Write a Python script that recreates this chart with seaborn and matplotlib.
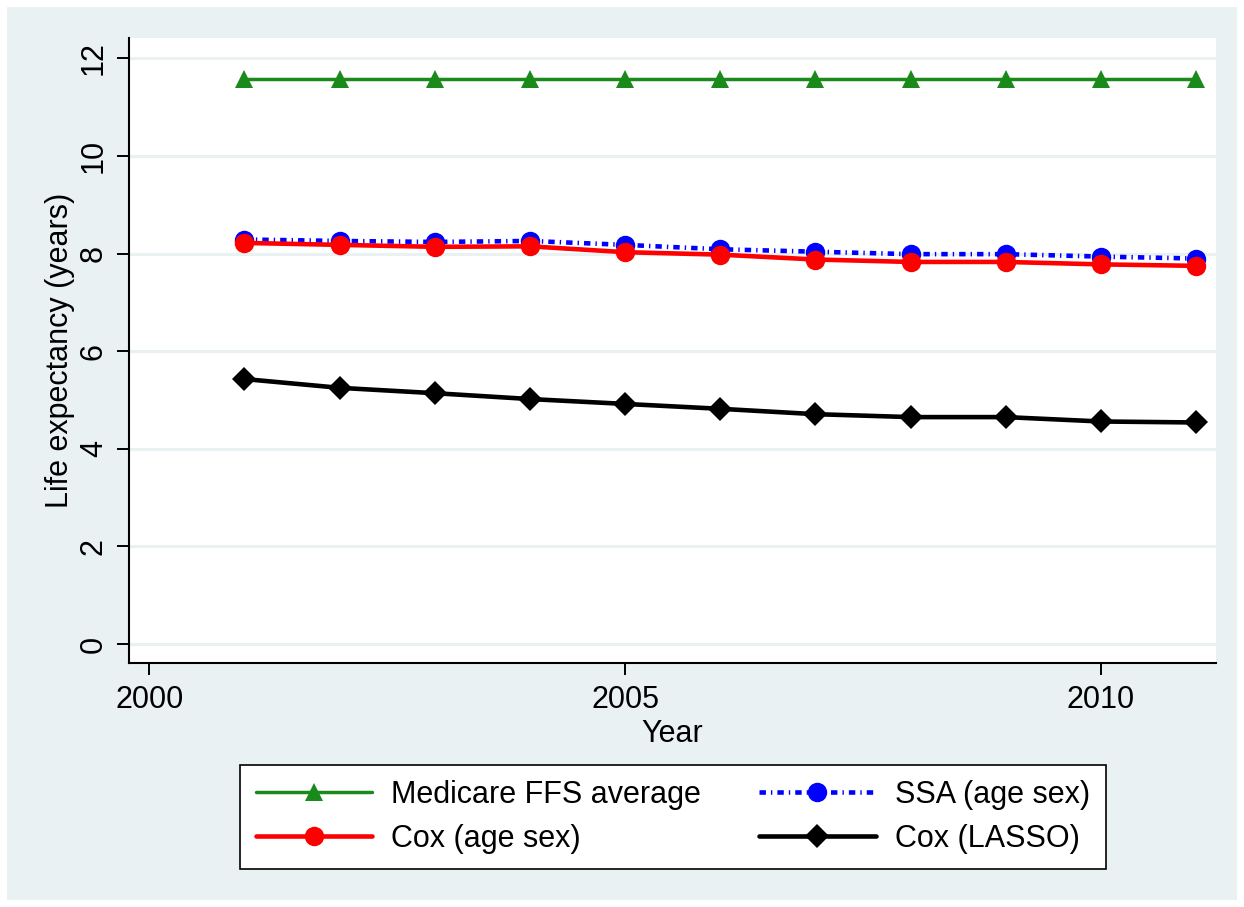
import numpy as np
import pandas as pd
import matplotlib
matplotlib.use("Agg")
import matplotlib.pyplot as plt
from matplotlib.patches import Rectangle
import seaborn as sns

# Life expectancy by year for each estimation approach
years = [2001, 2002, 2003, 2004, 2005, 2006, 2007, 2008, 2009, 2010, 2011]
medicare_ffs = [11.58, 11.58, 11.58, 11.58, 11.58, 11.58, 11.58, 11.58, 11.58, 11.58, 11.58]
ssa_age_sex = [8.29, 8.26, 8.24, 8.26, 8.18, 8.09, 8.04, 7.99, 7.99, 7.94, 7.90]
cox_age_sex = [8.22, 8.18, 8.14, 8.15, 8.03, 7.98, 7.88, 7.83, 7.83, 7.78, 7.75]
cox_lasso = [5.43, 5.25, 5.14, 5.02, 4.92, 4.82, 4.71, 4.65, 4.65, 4.56, 4.54]

series_labels = ["Medicare FFS average", "SSA (age sex)", "Cox (age sex)", "Cox (LASSO)"]
x_ticks = [2000, 2005, 2010]
y_ticks = [0, 2, 4, 6, 8, 10, 12]

sns.set_style("white")
plt.rcParams["font.family"] = ["Liberation Sans", "DejaVu Sans"]
plt.rcParams["text.color"] = "black"
plt.rcParams["axes.labelcolor"] = "black"
plt.rcParams["xtick.color"] = "black"
plt.rcParams["ytick.color"] = "black"

BG = "#EAF1F3"
FS = 22

fig = plt.figure(figsize=(12.44, 9.07), dpi=100, facecolor="white")
# outer graph region with a thin white margin
region = Rectangle((7 / 1244, 7 / 907), 1230 / 1244, 893 / 907,
                   transform=fig.transFigure, facecolor=BG, edgecolor="none")
region.set_zorder(-10)
fig.add_artist(region)

ax = fig.add_axes([129 / 1244, 1 - 663 / 907, (1216 - 129) / 1244, (663 - 38) / 907])
ax.set_zorder(1)
ax.set_facecolor("white")

df = pd.DataFrame({"year": years, "medicare": medicare_ffs, "ssa": ssa_age_sex,
                   "cox": cox_age_sex, "lasso": cox_lasso})

sns.lineplot(data=df, x="year", y="medicare", ax=ax, color="#1A8A1A", linewidth=2.5,
             marker="^", markersize=13, markeredgewidth=0, label=series_labels[0], zorder=3)
sns.lineplot(data=df, x="year", y="ssa", ax=ax, color="#0000FF", linewidth=3.3,
             linestyle=(0, (1.4, 1.1, 0.3, 1.1)),
             marker="o", markersize=14, markeredgewidth=0, label=series_labels[1], zorder=3)
sns.lineplot(data=df, x="year", y="cox", ax=ax, color="#FF0000", linewidth=3.3,
             marker="o", markersize=14, markeredgewidth=0, label=series_labels[2], zorder=4)
sns.lineplot(data=df, x="year", y="lasso", ax=ax, color="black", linewidth=3.3,
             marker="D", markersize=12.5, markeredgewidth=0, label=series_labels[3], zorder=4)

ax.set_xlim(1999.787, 2011.21)
ax.set_ylim(-0.39, 12.42)
ax.set_xticks(x_ticks)
ax.set_yticks(y_ticks)
ax.set_xticklabels([str(t) for t in x_ticks], fontsize=FS)
ax.set_yticklabels([str(t) for t in y_ticks], fontsize=FS, rotation=90, va="center")

ax.yaxis.grid(True, color=BG, linewidth=2.2, zorder=0)
ax.xaxis.grid(False)
ax.set_axisbelow(True)

for side in ["top", "right"]:
    ax.spines[side].set_visible(False)
for side in ["left", "bottom"]:
    ax.spines[side].set_color("black")
    ax.spines[side].set_linewidth(1.5)

ax.tick_params(axis="both", direction="out", length=8.5, width=1.4, color="black",
               left=True, bottom=True)
ax.tick_params(axis="y", pad=6)
ax.tick_params(axis="x", pad=7)

ax.set_xlabel("Year", fontsize=FS, labelpad=3)
ax.set_ylabel("Life expectancy (years)", fontsize=FS, labelpad=3)

handles, labels = ax.get_legend_handles_labels()
ax.get_legend().remove()
# legend reads row by row: Medicare | SSA, then Cox (age sex) | Cox (LASSO)
order = [0, 2, 1, 3]
leg = fig.legend([handles[i] for i in order], [labels[i] for i in order],
                 loc="center", bbox_to_anchor=(673 / 1244, 1 - 817 / 907),
                 ncol=2, fontsize=FS, frameon=True, fancybox=False, edgecolor="black",
                 framealpha=1, handlelength=3.8, handletextpad=0.65, columnspacing=1.9,
                 borderpad=0.5, labelspacing=0.45, numpoints=1, borderaxespad=0)
leg.get_frame().set_linewidth(1.2)

fig.savefig("out.png", dpi=100, facecolor="white")
